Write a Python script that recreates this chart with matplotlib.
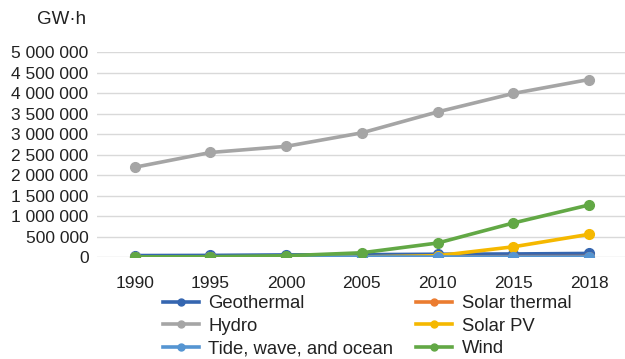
import matplotlib.pyplot as plt
from matplotlib.lines import Line2D
from matplotlib.ticker import FuncFormatter, MultipleLocator

plt.rcParams['font.family'] = ['Liberation Sans', 'DejaVu Sans']

years = ['1990', '1995', '2000', '2005', '2010', '2015', '2018']

# electricity generation, GW·h
geothermal = [36000, 40000, 52000, 58000, 68000, 75000, 88000]
solar_thermal = [600, 800, 500, 600, 1600, 9600, 12000]
hydro = [2190000, 2550000, 2700000, 3030000, 3540000, 3990000, 4330000]
solar_pv = [400, 500, 1000, 4000, 32000, 250000, 554000]
tide = [600, 500, 500, 500, 500, 1000, 1000]
wind = [3900, 8000, 31000, 104000, 342000, 831000, 1270000]

series = [
    ('Geothermal', geothermal, '#3566B0'),
    ('Solar thermal', solar_thermal, '#EB7C30'),
    ('Hydro', hydro, '#A5A5A5'),
    ('Solar PV', solar_pv, '#F5B800'),
    ('Tide, wave, and ocean', tide, '#5595D2'),
    ('Wind', wind, '#62A845'),
]

fig = plt.figure(figsize=(6.25, 3.59), dpi=100)
ax = fig.add_axes([0.155, 0.284, 0.848, 0.571])

x = range(len(years))
colors = {}
for name, vals, color in series:
    ax.plot(x, vals, color=color, lw=2.6, marker='o', ms=7, label=name)
    colors[name] = color

ax.set_xlim(-0.5, len(years) - 0.5)
ax.set_ylim(0, 5000000)
ax.yaxis.set_major_locator(MultipleLocator(500000))
ax.yaxis.set_major_formatter(FuncFormatter(lambda v, p: f'{v:,.0f}'.replace(',', ' ')))
ax.set_xticks(list(x))
ax.set_xticklabels(years)
ax.grid(axis='y', color='#D9D9D9', lw=1)
ax.set_axisbelow(True)
for s in ax.spines.values():
    s.set_visible(False)
ax.tick_params(length=0, labelsize=12.5, colors='#222222', pad=6)
ax.tick_params(axis='x', pad=14)

fig.text(0.138, 0.945, 'GW·h', ha='right', va='center', fontsize=13.5, color='#222222')

# legend keys are drawn smaller than the plotted markers
order = ['Geothermal', 'Hydro', 'Tide, wave, and ocean', 'Solar thermal', 'Solar PV', 'Wind']
keys = [Line2D([], [], color=colors[n], lw=2.6, marker='o', ms=5) for n in order]
fig.legend(keys, order, ncol=2, loc='upper left',
           bbox_to_anchor=(0.261, 0.178), frameon=False, fontsize=13.3,
           handlelength=1.95, handletextpad=0.5, columnspacing=1.25,
           labelspacing=0.3, borderpad=0, borderaxespad=0, labelcolor='#222222')

fig.savefig('out.png', dpi=100)
